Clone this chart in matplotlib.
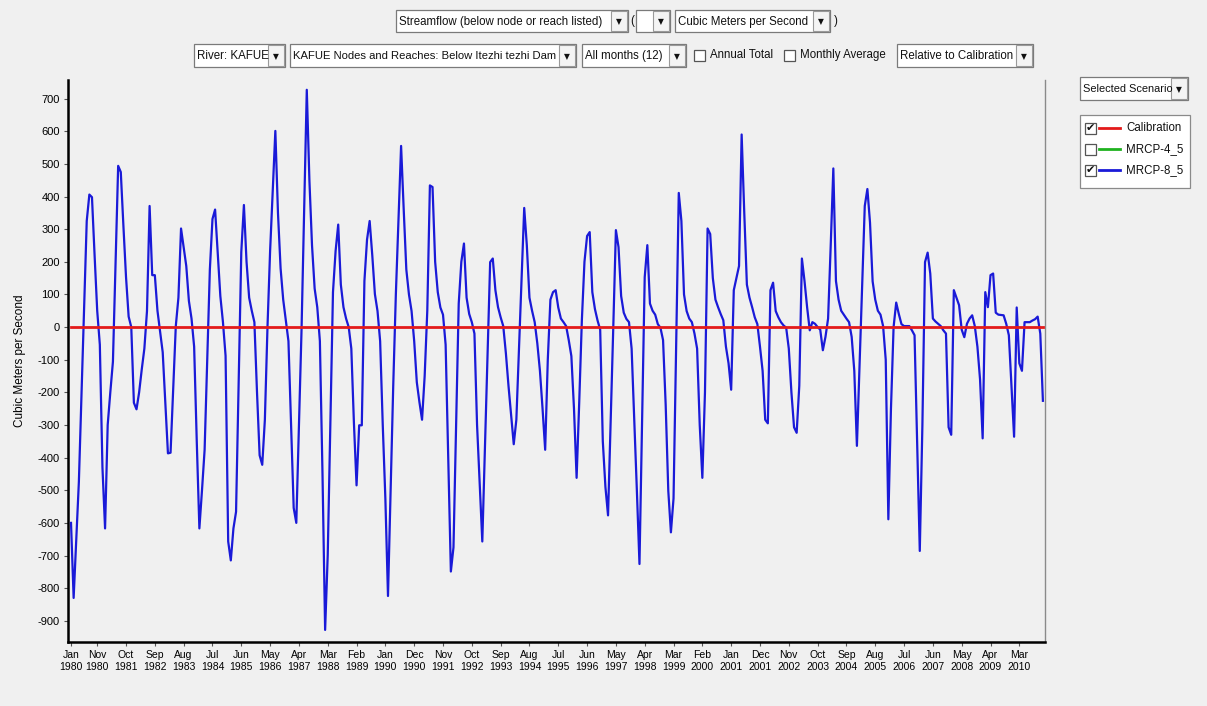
import numpy as np
import pandas as pd
import matplotlib
matplotlib.use("Agg")
import matplotlib.pyplot as plt
from matplotlib.patches import Rectangle
from matplotlib.lines import Line2D
import matplotlib.transforms as mtransforms

# Streamflow below Itezhi-tezhi Dam, MRCP-8_5 relative to Calibration (m3/s), monthly
flow_1980s = [
    -600, -830, -650, -474, -210, 60, 325, 406, 398, 220, 50, -54,
    -430, -617, -300, -200, -106, 200, 494, 475, 310, 153, 32, 0,
    -232, -252, -200, -130, -66, 49, 371, 159, 159, 50, -14, -77,
    -230, -387, -385, -190, 3, 90, 302, 245, 187, 80, 26, -60,
    -350, -617, -500, -376, -100, 176, 331, 360, 230, 95, 15, -88,
    -657, -715, -617, -566, -170, 230, 374, 200, 90, 50, 15, -200,
    -393, -422, -284, 0, 233, 420, 601, 350, 180, 84, 20, -43,
    -300, -554, -600, -300, -8, 360, 727, 450, 250, 118, 61, -43,
    -450, -928, -698, -295, 107, 233, 314, 130, 61, 26, 0, -66,
    -295, -485, -301, -301, 141, 268, 325, 220, 101, 49, -43, -300,
]
flow_1990s = [
    -526, -824, -500, -180, 100, 330, 555, 360, 176, 100, 49, -43,
    -169, -230, -284, -150, 50, 434, 429, 200, 107, 60, 38, -54,
    -400, -749, -675, -300, 72, 200, 256, 90, 40, 15, -20, -300,
    -480, -657, -372, -87, 199, 210, 113, 61, 30, 3, -80, -180,
    -270, -359, -284, -67, 150, 365, 250, 90, 50, 15, -50, -134,
    -250, -376, -100, 84, 107, 113, 60, 26, 15, 3, -40, -89,
    -250, -462, -230, 20, 200, 279, 291, 107, 55, 20, -8, -350,
    -490, -577, -290, 0, 297, 245, 95, 44, 25, 15, -66, -280,
    -500, -726, -280, 153, 251, 72, 50, 38, 9, -2, -40, -238,
    -502, -629, -525, -50, 411, 325, 100, 49, 26, 15, -20, -66,
]
flow_2000s = [
    -300, -462, -200, 302, 285, 150, 84, 61, 40, 21, -60, -111,
    -192, 113, 150, 187, 590, 350, 130, 90, 61, 30, 9, -60,
    -134, -284, -295, 113, 136, 49, 30, 15, 5, -2, -66, -200,
    -307, -324, -180, 210, 141, 60, -10, 15, 10, 0, -8, -71,
    -30, 26, 250, 486, 141, 84, 50, 38, 26, 15, -30, -134,
    -364, -120, 125, 371, 423, 320, 140, 84, 50, 38, 3, -100,
    -589, -250, 0, 75, 40, 9, 3, 3, 3, -10, -25, -350,
    -686, -300, 199, 228, 164, 26, 17, 10, 3, -10, -20, -307,
    -330, 113, 90, 67, -8, -31, 10, 26, 36, 3, -60, -160,
    -341, 107, 61, 159, 164, 44, 38, 37, 36, 10, -25, -180,
]
flow_2010 = [-336, 60, -111, -134, 15, 15, 15, 20, 24, 32, -20, -226]

mrcp85 = np.array(flow_1980s + flow_1990s + flow_2000s + flow_2010, dtype=float)
months = pd.date_range("1980-01-01", periods=len(mrcp85), freq="MS")
calibration = np.zeros(len(months))

y_ticks = list(range(700, -1000, -100))
tick_idx = [0] + list(range(10, len(months), 11))
tick_labels = [f"{months[i]:%b}\n{months[i]:%Y}" for i in tick_idx]

legend_names = ["Calibration", "MRCP-4_5", "MRCP-8_5"]
legend_colors = ["#e31a1a", "#1fb21f", "#1a1ad8"]
legend_checked = [True, False, True]

W, H = 1207, 706
BG = "#f0f0f0"
UI_FONT = "Liberation Sans"
plt.rcParams["font.family"] = [UI_FONT, "DejaVu Sans"]

fig = plt.figure(figsize=(W / 100, H / 100), dpi=100, facecolor=BG)
px = mtransforms.Affine2D().scale(1 / W, -1 / H).translate(0, 1) + fig.transFigure

# ---- chart area ----
ax = fig.add_axes([68 / W, 1 - 642 / H, (1045 - 68) / W, (642 - 80) / H])
ax.set_facecolor(BG)
x = np.arange(len(months))
ax.plot(x, mrcp85, color=legend_colors[2], lw=1.6, zorder=3)
ax.plot(x, calibration, color=legend_colors[0], lw=2.0, zorder=4)
ax.set_xlim(-1.15, len(months) - 0.2)
ax.set_ylim(-965, 757)
ax.set_yticks(y_ticks)
ax.set_yticklabels([str(v) for v in y_ticks], fontsize=8)
ax.set_xticks(tick_idx)
ax.set_xticklabels(tick_labels, fontsize=7.5, linespacing=1.25)
ax.tick_params(axis="both", direction="out", length=3, width=0.8, color="#555555", pad=3)
ax.set_ylabel("Cubic Meters per Second", fontsize=8.5, labelpad=8)
for side in ("left", "bottom"):
    ax.spines[side].set_linewidth(1.8)
    ax.spines[side].set_color("black")
ax.spines["right"].set_color("#8a8a8a")
ax.spines["right"].set_linewidth(1.0)
ax.spines["top"].set_visible(False)


# ---- control bar widgets ----
def box(x0, y0, x1, y1, face="white", edge="#7a7a7a", lw=0.9):
    fig.add_artist(Rectangle((x0, y0), x1 - x0, y1 - y0, transform=px,
                             facecolor=face, edgecolor=edge, lw=lw))


def label(x0, y, s, size=8.3, ha="left", family=None):
    fig.text(x0, y, s, transform=px, fontsize=size, ha=ha, va="center", color="#111111",
             family=family or [UI_FONT, "DejaVu Sans"])


def dropdown(x0, y0, x1, y1, text, arrow_w=17, size=8.3):
    box(x0, y0, x1, y1)
    box(x1 - arrow_w, y0 + 1, x1 - 1, y1 - 1, face="#f4f4f4", edge="#9a9a9a", lw=0.8)
    if text:
        label(x0 + 3, (y0 + y1) / 2 + 0.5, text, size=size)
    label(x1 - arrow_w / 2 - 0.5, (y0 + y1) / 2 + 1, "\u25BC", size=5.5, ha="center",
          family="DejaVu Sans")


def checkbox(x0, yc, checked=False):
    box(x0, yc - 5.5, x0 + 11, yc + 5.5, edge="#555555", lw=0.9)
    if checked:
        label(x0 + 5.5, yc + 0.5, "\u2714", size=8, ha="center", family="DejaVu Sans")


dropdown(396, 10, 628, 32, "Streamflow (below node or reach listed)")
label(630, 21, "(")
dropdown(636, 10, 670, 32, "")
dropdown(675, 10, 830, 32, "Cubic Meters per Second")
label(834, 21, ")")

dropdown(194, 44, 285, 67, "River: KAFUE")
dropdown(290, 44, 576, 67, "KAFUE Nodes and Reaches: Below Itezhi tezhi Dam", size=8.1)
dropdown(582, 44, 686, 67, "All months (12)")
checkbox(694, 55)
label(710, 55, "Annual Total")
checkbox(784, 55)
label(800, 55, "Monthly Average")
dropdown(897, 44, 1033, 67, "Relative to Calibration")

# ---- scenario selector and legend ----
dropdown(1080, 77, 1188, 100, "Selected Scenario", size=7.9)
box(1080, 115, 1190, 188, edge="#8a8a8a")
for i, (name, col, chk) in enumerate(zip(legend_names, legend_colors, legend_checked)):
    yc = 128 + i * 21
    checkbox(1085, yc, chk)
    fig.add_artist(Line2D([1099, 1120], [yc, yc], transform=px, color=col, lw=2.0))
    label(1126, yc, name)

fig.savefig("out.png", dpi=100, facecolor=BG)
